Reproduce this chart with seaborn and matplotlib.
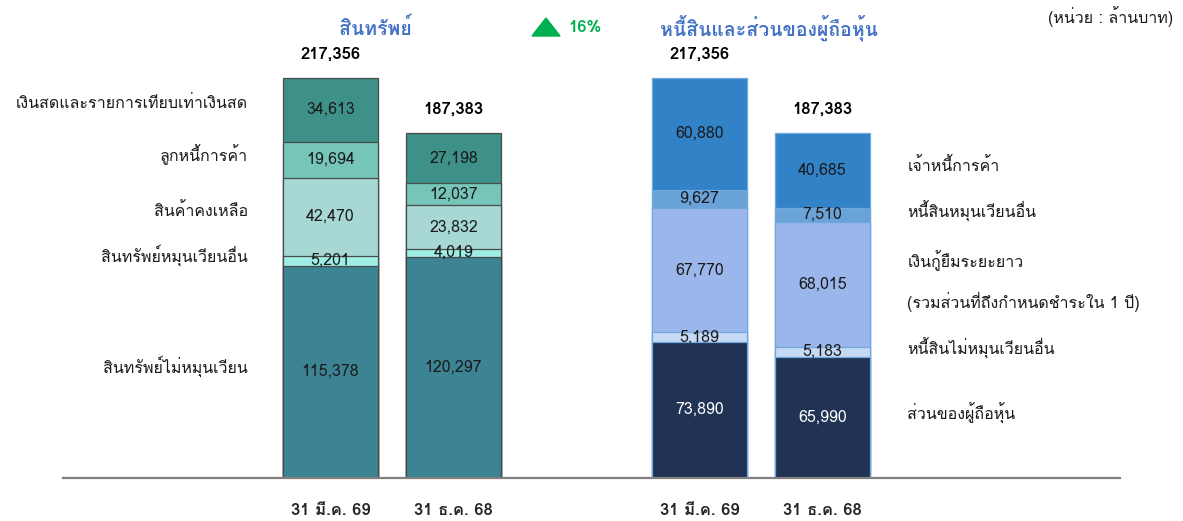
import numpy as np
import matplotlib
matplotlib.use("Agg")
import matplotlib.pyplot as plt
import seaborn as sns
from matplotlib import font_manager
from matplotlib.ft2font import FT2Font

# ---- data (million baht) ----
periods = ["31 มี.ค. 69", "31 ธ.ค. 68", "31 มี.ค. 69", "31 ธ.ค. 68"]
positions = [0, 1, 3, 4]

asset_labels = ["สินทรัพย์ไม่หมุนเวียน", "สินทรัพย์หมุนเวียนอื่น", "สินค้าคงเหลือ",
                "ลูกหนี้การค้า", "เงินสดและรายการเทียบเท่าเงินสด"]
assets_mar69 = [115378, 5201, 42470, 19694, 34613]
assets_dec68 = [120297, 4019, 23832, 12037, 27198]

liab_labels = ["ส่วนของผู้ถือหุ้น", "หนี้สินไม่หมุนเวียนอื่น",
               "เงินกู้ยืมระยะยาว\n(รวมส่วนที่ถึงกำหนดชำระใน 1 ปี)",
               "หนี้สินหมุนเวียนอื่น", "เจ้าหนี้การค้า"]
liab_mar69 = [73890, 5189, 67770, 9627, 60880]
liab_dec68 = [65990, 5183, 68015, 7510, 40685]

growth = "16%"

asset_colors = ["#3C8393", "#9EEEE6", "#A7D8D3", "#75C6B9", "#3E9189"]
liab_colors = ["#213355", "#C6DAF5", "#9BB6EB", "#6AA3D8", "#3282C8"]


def thai_family():
    for f in font_manager.fontManager.ttflist:
        try:
            if 0x0E2A in FT2Font(f.fname).get_charmap():
                return f.name
        except Exception:
            pass
    return "DejaVu Sans"


sns.set_theme(style="white")
thai = thai_family()
plt.rcParams["font.family"] = [thai, "DejaVu Sans"]

W, H = 1183, 521
fig = plt.figure(figsize=(W / 100, H / 100), dpi=100)
ymax = 217356 * 478 / 400
ax = fig.add_axes([63 / W, 43 / H, (1120 - 63) / W, 478 / H])

stacks = [
    (positions[:2], np.array([assets_mar69, assets_dec68]), asset_colors, "#4A4A4A"),
    (positions[2:], np.array([liab_mar69, liab_dec68]), liab_colors, "#6FA8DC"),
]

for xs, vals, cols, edge in stacks:
    cum = vals.cumsum(axis=1)
    # draw from the top layer down so each lower layer overlaps the one above
    for k in range(vals.shape[1] - 1, -1, -1):
        sns.barplot(x=xs, y=cum[:, k], native_scale=True, width=0.77,
                    color=cols[k], edgecolor=edge, linewidth=0.9,
                    saturation=1, ax=ax)
    for i, x in enumerate(xs):
        bottoms = np.concatenate([[0], cum[i, :-1]])
        for k, v in enumerate(vals[i]):
            c = "white" if cols[k] == "#213355" else "#1a1a1a"
            ax.text(x, bottoms[k] + v / 2, f"{v:,}", ha="center", va="center",
                    fontsize=11.5, color=c)
        ax.text(x, cum[i, -1] + 13000, f"{cum[i, -1]:,}", ha="center",
                va="center", fontsize=12, fontweight="bold", color="black")

# category labels next to the bars
cum_a = np.cumsum(assets_mar69)
for k, lab in enumerate(asset_labels):
    mid = cum_a[k] - assets_mar69[k] / 2
    ax.text(-0.67, mid + 3000, lab, ha="right", va="center", fontsize=11.5,
            color="#1a1a1a")
cum_l = np.cumsum(liab_dec68)
for k, lab in enumerate(liab_labels):
    mid = cum_l[k] - liab_dec68[k] / 2
    ax.text(4.69, mid + 2000, lab, ha="left", va="center", fontsize=11.5,
            color="#1a1a1a", linespacing=2.3)

ax.set_xlim(-2.175, 6.419)
ax.set_ylim(0, ymax)
ax.set_xticks(positions)
ax.set_xticklabels(periods, fontsize=12, fontweight="bold")
ax.tick_params(axis="x", length=0, pad=18)
ax.set_yticks([])
ax.set_xlabel("")
ax.set_ylabel("")
for s in ["top", "left", "right"]:
    ax.spines[s].set_visible(False)
ax.spines["bottom"].set_color("#808080")
ax.spines["bottom"].set_linewidth(1.6)

# headings
fig.text(375 / W, 1 - 28 / H, "สินทรัพย์", ha="center", va="center",
         fontsize=14, fontweight="bold", color="#4472C4")
fig.text(769 / W, 1 - 28 / H, "หนี้สินและส่วนของผู้ถือหุ้น", ha="center", va="center",
         fontsize=14, fontweight="bold", color="#4472C4")
tri = plt.Polygon([[532 / W, 1 - 36 / H], [560 / W, 1 - 36 / H], [546 / W, 1 - 18 / H]],
                  closed=True, color="#00B050", transform=fig.transFigure)
fig.add_artist(tri)
fig.text(568 / W, 1 - 28 / H, growth, ha="left", va="center", fontsize=12,
         fontweight="bold", color="#00B050")
fig.text(1173 / W, 1 - 17 / H, "(หน่วย : ล้านบาท)", ha="right", va="center",
         fontsize=11.5, color="#1a1a1a")

fig.savefig("out.png", dpi=100)
